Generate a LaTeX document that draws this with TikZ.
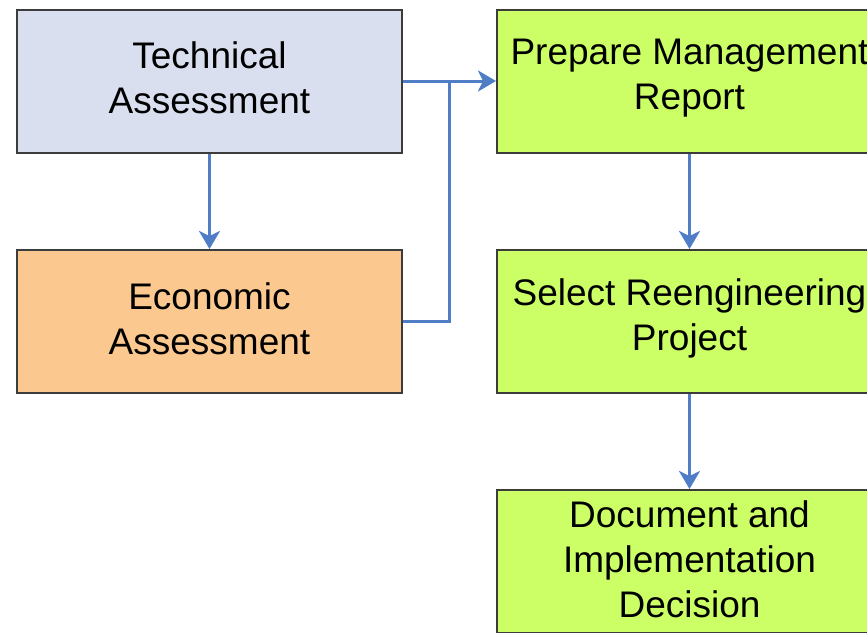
\documentclass[tikz,border=0pt]{standalone}
\usepackage{fontspec}
\setmainfont{Liberation Sans}
\usetikzlibrary{arrows.meta}
\definecolor{techfill}{HTML}{D9DFEF}
\definecolor{econfill}{HTML}{FBC98F}
\definecolor{greenfill}{HTML}{CCFF66}
\definecolor{edge}{HTML}{3C3C3C}
\definecolor{arrowblue}{HTML}{4F7EC6}
\tikzset{
  box/.style={draw=edge, line width=2pt, minimum width=385pt, minimum height=143pt,
    inner sep=0pt, align=center, font=\fontsize{37}{45}\selectfont},
  boxtext/.style={inner sep=0pt, align=center, font=\fontsize{37}{45}\selectfont},
  flow/.style={draw=arrowblue, line width=3pt, -{Stealth[length=18pt,width=21pt,inset=5pt]}},
  link/.style={draw=arrowblue, line width=3pt}
}
\begin{document}
\begin{tikzpicture}[x=1pt,y=-1pt]
\useasboundingbox (0,0) rectangle (867,632);
\clip (0,0) rectangle (867,632);
\node[box, fill=techfill] (tech) at (209.5,81) {};
\node[box, fill=econfill] (econ) at (209.5,321.5) {};
\node[box, fill=greenfill] (prep) at (689.5,81) {};
\node[box, fill=greenfill] (sel) at (689.5,321.5) {};
\node[box, fill=greenfill] (doc) at (689.5,561.5) {};
\node[boxtext] (techt) at ([yshift=3pt]tech.center) {Technical\\Assessment};
\node[boxtext] (econt) at ([yshift=3pt]econ.center) {Economic\\Assessment};
\node[boxtext] (prept) at ([yshift=3pt]prep.center) {Prepare Management\\Report};
\node[boxtext] (selt) at ([yshift=3pt]sel.center) {Select Reengineering\\Project};
\node[boxtext] (doct) at ([yshift=2pt]doc.center) {Document and\\Implementation\\Decision};
\coordinate (j) at (449,81);
\draw[flow] (tech) -- (econ);
\draw[flow] (tech.east) -- (prep.west);
\draw[link] (econ.east) -| (j);
\draw[flow] (prep) -- (sel);
\draw[flow] (sel) -- (doc);
\end{tikzpicture}
\end{document}
